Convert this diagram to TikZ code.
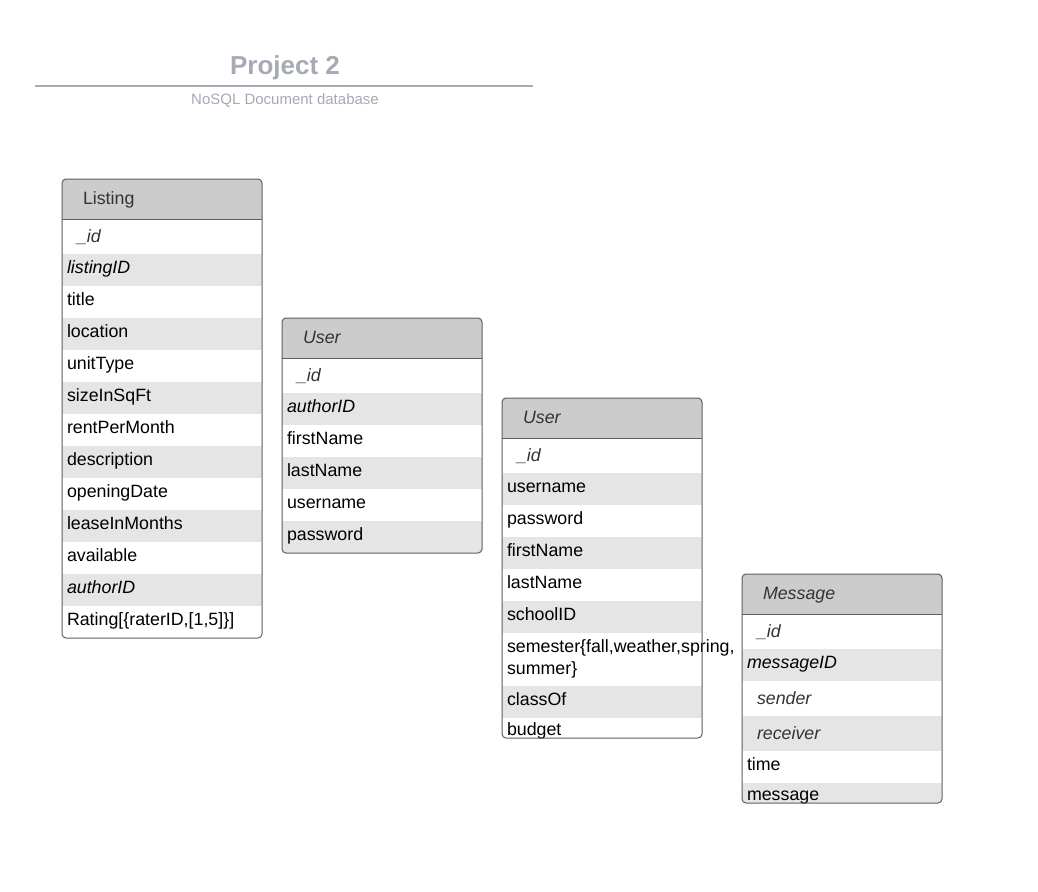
\documentclass[tikz,border=0pt]{standalone}
\usepackage{fontspec}
\setmainfont{Liberation Sans}
\definecolor{titlegray}{HTML}{A5AAB5}
\definecolor{hdrgray}{HTML}{CCCCCC}
\definecolor{rowgray}{HTML}{E5E5E5}
\definecolor{txtgray}{HTML}{333333}
\definecolor{boxline}{HTML}{5E5E5E}
\begin{document}
\begin{tikzpicture}[x=1pt,y=-1pt,
  baserow/.style={anchor=north west, minimum width=200pt, inner xsep=5pt, inner ysep=0pt,
    text width=190pt, align=left, font=\fontsize{17.8}{22}\selectfont, text=black,
    text height=11pt, text depth=5pt,
    minimum height=32pt, outer sep=0pt},
  whiterow/.style={baserow, fill=white},
  grayrow/.style={baserow, fill=rowgray},
  tallrow/.style={minimum height=35pt, text height=14pt, text depth=2pt},
  shortrow/.style={minimum height=20pt, text height=15pt, text depth=1pt},
  dblrow/.style={minimum height=53pt, text height=13pt, text depth=27pt},
  keyfld/.style={font=\fontsize{17.8}{22}\selectfont\itshape},
  indfld/.style={execute at begin node={\hspace*{10pt}}, font=\fontsize{17.8}{22}\selectfont\itshape, text=txtgray},
  hdrrow/.style={anchor=north west, minimum width=200pt, minimum height=40pt, inner xsep=21pt,
    inner ysep=0pt, text width=158pt, align=left, fill=hdrgray, text=txtgray,
    text height=13.5pt, text depth=2.5pt,
    font=\fontsize{17.8}{22}\selectfont, outer sep=0pt},
  hdrit/.style={hdrrow, font=\fontsize{17.8}{22}\selectfont\itshape},
  tblframe/.style={draw=boxline, line width=1pt, rounded corners=4pt},
  hdrsep/.style={draw=boxline, line width=1pt},
  tbltitle/.style={text=titlegray, font=\fontsize{26}{30}\selectfont\bfseries},
  tblsub/.style={text=titlegray, font=\fontsize{15}{18}\selectfont}
]
\useasboundingbox (0,0) rectangle (1038,891);
\fill[white] (0,0) rectangle (1038,891);

% Title
\node[tbltitle] (t) at (285,67.5) {Project 2};
\coordinate (tl) at (35,86);
\coordinate (tr) at (533,86);
\draw[titlegray, line width=1.5pt] (tl) -- (tr);
\node[tblsub] (st) at (285,100.5) {NoSQL Document database};

% Listing
\begin{scope}
\clip[rounded corners=4pt] (62,179) rectangle (262,638);
\node[hdrrow] (Lh) at (62,179) {Listing};
\node[whiterow,tallrow,indfld] (L1) at (Lh.south west) {\_id};
\node[grayrow,keyfld] (L2) at (L1.south west) {listingID};
\node[whiterow] (L3) at (L2.south west) {title};
\node[grayrow] (L4) at (L3.south west) {location};
\node[whiterow] (L5) at (L4.south west) {unitType};
\node[grayrow] (L6) at (L5.south west) {sizeInSqFt};
\node[whiterow] (L7) at (L6.south west) {rentPerMonth};
\node[grayrow] (L8) at (L7.south west) {description};
\node[whiterow] (L9) at (L8.south west) {openingDate};
\node[grayrow] (L10) at (L9.south west) {leaseInMonths};
\node[whiterow] (L11) at (L10.south west) {available};
\node[grayrow,keyfld] (L12) at (L11.south west) {authorID};
\node[whiterow] (L13) at (L12.south west) {Rating[\{raterID,[1,5]\}]};
\end{scope}
\draw[hdrsep] (Lh.south west) -- (Lh.south east);
\draw[tblframe] (Lh.north west) rectangle (L13.south east);

% User 1
\begin{scope}
\clip[rounded corners=4pt] (282,318) rectangle (482,553);
\node[hdrit] (Ah) at (282,318) {User};
\node[whiterow,tallrow,indfld] (A1) at (Ah.south west) {\_id};
\node[grayrow,keyfld] (A2) at (A1.south west) {authorID};
\node[whiterow] (A3) at (A2.south west) {firstName};
\node[grayrow] (A4) at (A3.south west) {lastName};
\node[whiterow] (A5) at (A4.south west) {username};
\node[grayrow] (A6) at (A5.south west) {password};
\end{scope}
\draw[hdrsep] (Ah.south west) -- (Ah.south east);
\draw[tblframe] (Ah.north west) rectangle (A6.south east);

% User 2
\begin{scope}
\clip[rounded corners=4pt] (502,398) rectangle (702,738);
\node[hdrit] (Uh) at (502,398) {User};
\node[whiterow,tallrow,indfld] (U1) at (Uh.south west) {\_id};
\node[grayrow] (U2) at (U1.south west) {username};
\node[whiterow] (U3) at (U2.south west) {password};
\node[grayrow] (U4) at (U3.south west) {firstName};
\node[whiterow] (U5) at (U4.south west) {lastName};
\node[grayrow] (U6) at (U5.south west) {schoolID};
\end{scope}
\node[whiterow,dblrow] (U7) at (U6.south west) {semester\{fall,weather,spring,\\summer\}};
\begin{scope}
\clip[rounded corners=4pt] (502,398) rectangle (702,738);
\node[grayrow] (U8) at (U7.south west) {classOf};
\node[whiterow,shortrow] (U9) at (U8.south west) {budget};
\end{scope}
\draw[hdrsep] (Uh.south west) -- (Uh.south east);
\draw[tblframe] (Uh.north west) rectangle (U9.south east);

% Message
\begin{scope}
\clip[rounded corners=4pt] (742,574) rectangle (942,803);
\node[hdrit] (Mh) at (742,574) {Message};
\node[whiterow,tallrow,indfld] (M1) at (Mh.south west) {\_id};
\node[grayrow,keyfld] (M2) at (M1.south west) {messageID};
\node[whiterow,tallrow,indfld] (M3) at (M2.south west) {sender};
\node[grayrow,tallrow,indfld] (M4) at (M3.south west) {receiver};
\node[whiterow] (M5) at (M4.south west) {time};
\node[grayrow,shortrow] (M6) at (M5.south west) {message};
\end{scope}
\draw[hdrsep] (Mh.south west) -- (Mh.south east);
\draw[tblframe] (Mh.north west) rectangle (M6.south east);
\end{tikzpicture}
\end{document}
